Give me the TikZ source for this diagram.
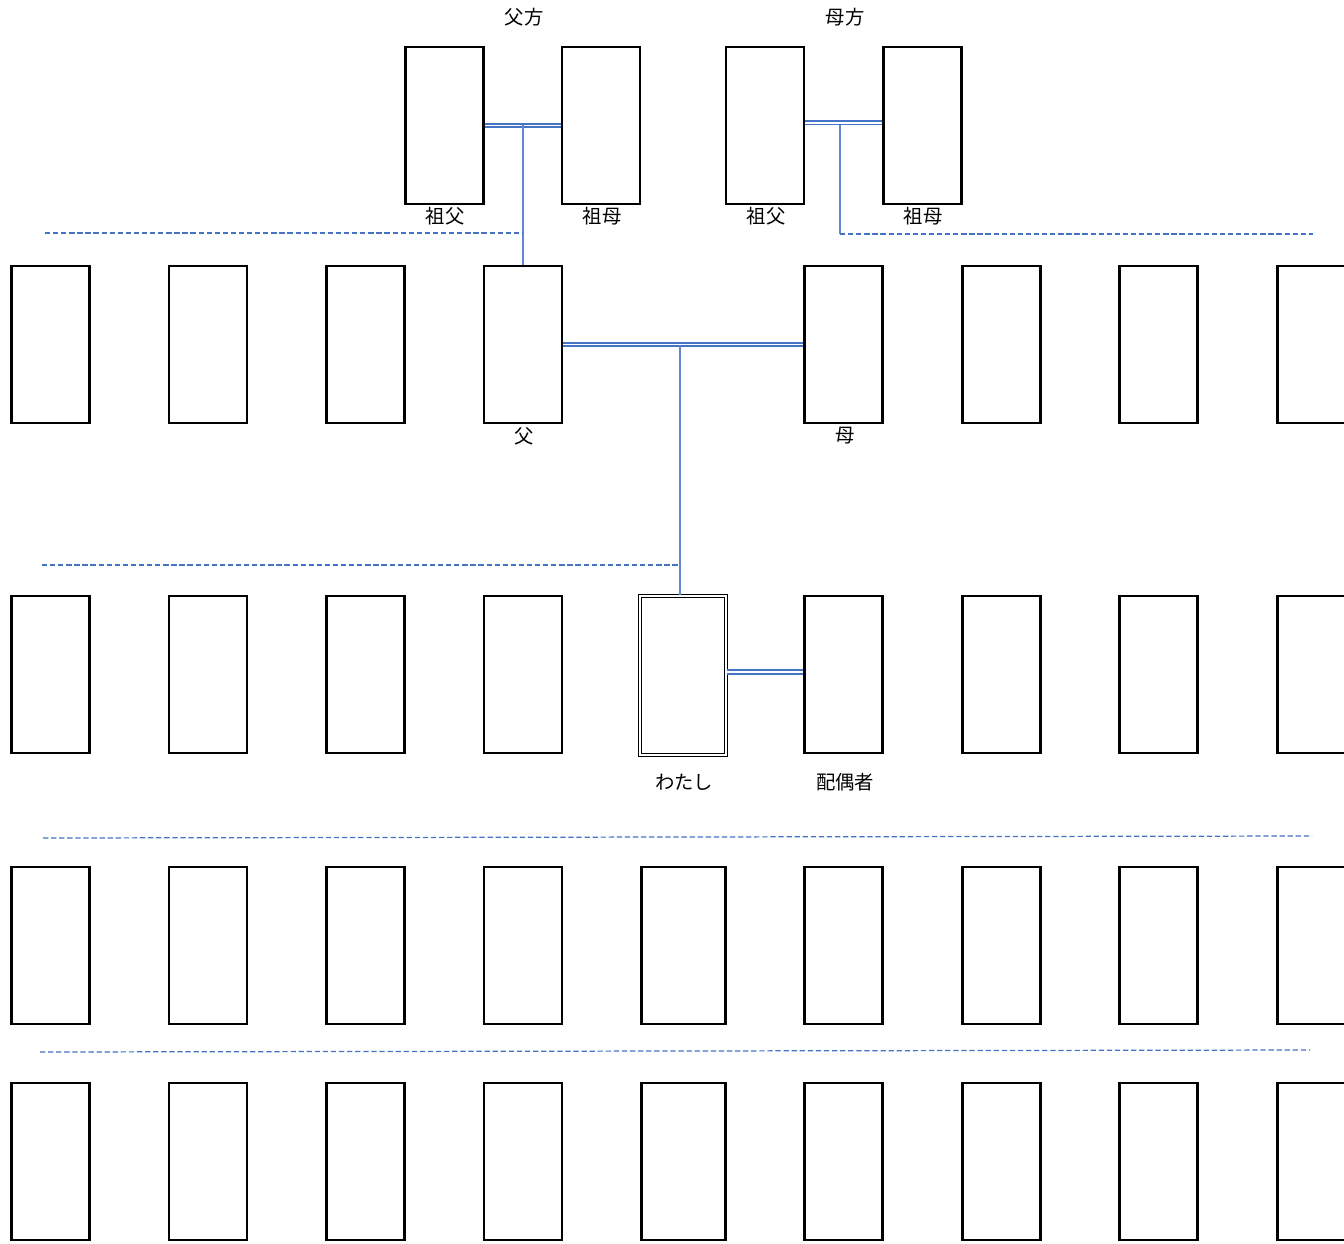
\documentclass[tikz,border=0pt]{standalone}
\usepackage{fontspec}
\newfontfamily\jpfont{Noto Sans CJK JP}
\usetikzlibrary{positioning}
\definecolor{kinblue}{HTML}{4472C4}

\begin{document}
\begin{tikzpicture}
  [x=0.02cm,y=-0.02cm,
   person/.style={rectangle,draw=black,line width=1.3pt,minimum width=1.56cm,minimum height=3.14cm,inner sep=0pt},
   wide/.style={minimum width=1.68cm},
   self/.style={person,double,line width=0.9pt,double distance=1pt,minimum width=1.72cm,minimum height=3.18cm},
   marriage/.style={draw=kinblue,line width=1pt,double=white,double distance=1pt},
   descent/.style={draw=kinblue!85,line width=0.8pt},
   generation/.style={draw=kinblue,line width=0.7pt,dash pattern=on 3pt off 1.6pt},
   kinlabel/.style={font=\jpfont\fontsize{11}{13}\selectfont,inner sep=0pt}]
  \clip (0,0) rectangle (1344,1243);
  % grandparents
  \node[person] (gfp) at (444.5,125.5) {};
  \node[person] (gmp) at (601,125.5) {};
  \node[person] (gfm) at (765,125.5) {};
  \node[person] (gmm) at (922.5,125.5) {};
  \node[kinlabel] (side-p) at (524,17) {父方};
  \node[kinlabel] (side-m) at (845,17) {母方};
  \node[kinlabel] (l-gfp) at (445,216) {祖父};
  \node[kinlabel] (l-gmp) at (602,216) {祖母};
  \node[kinlabel] (l-gfm) at (766,216) {祖父};
  \node[kinlabel] (l-gmm) at (923,216) {祖母};
  % parents' generation
  \node[person] (fa) at (523,344.5) {};
  \node[person] (mo) at (843.5,344.5) {};
  \foreach \i/\cx in {1/50.5,2/208,3/365.5,7/1001.5,8/1158.5,9/1316.5}
    \node[person] (r2c\i) at (\cx,344.5) {};
  \node[kinlabel] (l-fa) at (524,436) {父};
  \node[kinlabel] (l-mo) at (845,436) {母};
  % my generation
  \node[self] (me) at (683,675.5) {};
  \node[person] (sp) at (843.5,674.5) {};
  \foreach \i/\cx in {1/50.5,2/208,3/365.5,4/523,7/1001.5,8/1158.5,9/1316.5}
    \node[person] (r3c\i) at (\cx,674.5) {};
  \node[kinlabel] (l-me) at (684,782) {わたし};
  \node[kinlabel] (l-sp) at (845,782) {配偶者};
  % children and grandchildren
  \foreach \r/\cy in {4/945.5,5/1161.5} {
    \foreach \i/\cx in {1/50.5,2/208,3/365.5,4/523,6/843.5,7/1001.5,8/1158.5,9/1316.5}
      \node[person] (r\r c\i) at (\cx,\cy) {};
    \node[person,wide] (r\r c5) at (683.5,\cy) {};
  }
  % couples
  \draw[marriage] (gfp.east) -- (gmp.west);
  \draw[marriage] ([yshift=1.5pt]gfm.east) -- ([yshift=1.5pt]gmm.west);
  \draw[marriage] (fa.east) -- (mo.west);
  \draw[marriage] ([yshift=1.5pt]sp.west -| me.east) -- ([yshift=1.5pt]sp.west);
  % descent
  \coordinate (pat) at (45,233);
  \coordinate (mat) at (840,234);
  \coordinate (own) at (680,565);
  \draw[descent] (fa.north |- gfp.east) -- (fa.north);
  \draw[descent] (mat |- gfm.east) -- (mat);
  \draw[descent] (own |- fa.east) -- (own |- me.north);
  % generation lines
  \coordinate (matend) at (1313,234);
  \coordinate (ownend) at (42,565);
  \coordinate (g4a) at (43,838);
  \coordinate (g4b) at (1312,836);
  \coordinate (g5a) at (40,1052);
  \coordinate (g5b) at (1310,1050);
  \draw[generation] (pat) -- (pat -| fa.north);
  \draw[generation] (mat) -- (matend);
  \draw[generation] (ownend) -- (own);
  \draw[generation] (g4a) -- (g4b);
  \draw[generation] (g5a) -- (g5b);
\end{tikzpicture}
\end{document}
